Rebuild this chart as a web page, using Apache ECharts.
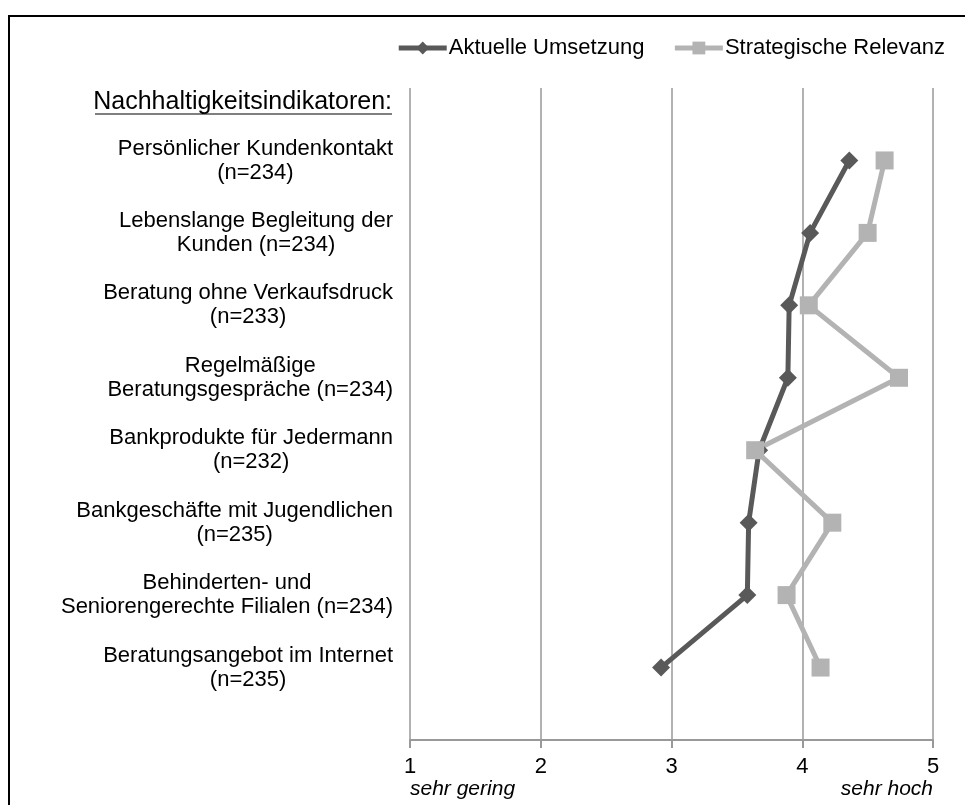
<!DOCTYPE html>
<html>
<head>
<meta charset="utf-8">
<script src="https://cdn.jsdelivr.net/npm/echarts@6/dist/echarts.min.js"></script>
<style>html,body{margin:0;padding:0;background:#fff}#c{width:965px;height:805px}</style>
</head>
<body>
<div id="c"></div>
<script>
var categories = [
  'Persönlicher Kundenkontakt\n(n=234)',
  'Lebenslange Begleitung der\nKunden (n=234)',
  'Beratung ohne Verkaufsdruck\n(n=233)',
  'Regelmäßige\nBeratungsgespräche (n=234)',
  'Bankprodukte für Jedermann\n(n=232)',
  'Bankgeschäfte mit Jugendlichen\n(n=235)',
  'Behinderten- und\nSeniorengerechte Filialen (n=234)',
  'Beratungsangebot im Internet\n(n=235)'
];
var aktuelleUmsetzung = [4.36, 4.06, 3.90, 3.89, 3.67, 3.59, 3.58, 2.92];
var strategischeRelevanz = [4.63, 4.50, 4.05, 4.74, 3.64, 4.23, 3.88, 4.14];
var xTicks = ['1', '2', '3', '4', '5'];
var scaleEnds = {1: 'sehr gering', 5: 'sehr hoch'};
var headerText = 'Nachhaltigkeitsindikatoren:';
var seriesNames = ['Aktuelle Umsetzung', 'Strategische Relevanz'];

var yCats = [''].concat(categories).concat(['']);
function pairs(vals) { return vals.map(function (v, i) { return [v, categories[i]]; }); }

var FONT = 'Liberation Sans';
var chart = echarts.init(document.getElementById('c'), null, {renderer: 'canvas'});
chart.setOption({
  animation: false,
  backgroundColor: '#fff',
  textStyle: {fontFamily: FONT},
  grid: {left: 410, right: 32, top: 88, bottom: 65, containLabel: false},
  legend: {
    right: 15, top: 32,
    itemWidth: 48, itemHeight: 16, itemGap: 28,
    lineStyle: {width: 5},
    textStyle: {fontFamily: FONT, fontSize: 22, color: '#000', padding: [0, 0, 0, -3]},
    data: seriesNames
  },
  xAxis: [{
    type: 'value', min: 1, max: 5, interval: 1,
    axisLine: {show: true, lineStyle: {color: '#999', width: 2}},
    axisTick: {show: true, length: 8, lineStyle: {color: '#999', width: 2}},
    splitLine: {show: true, lineStyle: {color: '#999', width: 1.5}},
    axisLabel: {color: '#000', fontSize: 22, fontFamily: FONT, margin: 16,
      formatter: function (v) { return xTicks[Math.round(v) - 1] || ''; }}
  }, {
    type: 'value', min: 1, max: 5, interval: 1, position: 'bottom', offset: 27,
    axisLine: {show: false}, axisTick: {show: false}, splitLine: {show: false},
    axisLabel: {color: '#000', fontSize: 21, fontStyle: 'italic', fontFamily: FONT, margin: 12,
      alignMinLabel: 'left', alignMaxLabel: 'right',
      formatter: function (v) { return scaleEnds[Math.round(v)] || ''; }}
  }],
  yAxis: {
    type: 'category', data: yCats, inverse: true, boundaryGap: false,
    axisLine: {show: false}, axisTick: {show: false}, splitLine: {show: false},
    axisLabel: {
      margin: 17, color: '#000', fontSize: 22, fontFamily: FONT, lineHeight: 24,
      formatter: function (v) {
        if (!v) return '';
        return v.split('\n').map(function (s) { return '{c|' + s + '}'; }).join('\n');
      },
      rich: {c: {align: 'center', fontSize: 22, fontFamily: FONT, color: '#000', lineHeight: 24}}
    }
  },
  series: [{
    name: seriesNames[0], type: 'line', data: pairs(aktuelleUmsetzung),
    symbol: 'diamond', symbolSize: 18,
    lineStyle: {color: '#595959', width: 5},
    itemStyle: {color: '#595959'}
  }, {
    name: seriesNames[1], type: 'line', data: pairs(strategischeRelevanz),
    symbol: 'rect', symbolSize: 18,
    lineStyle: {color: '#b3b3b3', width: 5},
    itemStyle: {color: '#b3b3b3'}
  }],
  graphic: [
    {type: 'rect', shape: {x: 9, y: 16, width: 1100, height: 900}, style: {fill: null, stroke: '#000', lineWidth: 2}, silent: true},
    {type: 'text', x: 392, y: 102, style: {text: headerText, font: '25px "Liberation Sans"', fill: '#000', align: 'right', verticalAlign: 'middle'}},
    {type: 'line', shape: {x1: 95, y1: 114, x2: 392, y2: 114}, style: {stroke: '#000', lineWidth: 1.2}}
  ]
});
</script>
</body>
</html>
